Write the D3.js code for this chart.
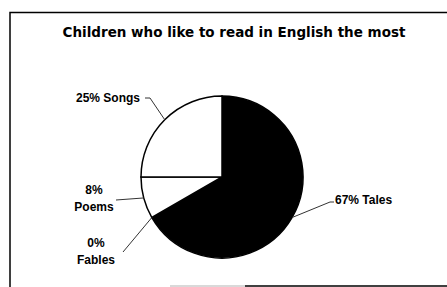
<!DOCTYPE html>
<html><head><meta charset="utf-8">
<script src="https://cdn.jsdelivr.net/npm/d3@7"></script>
<style>body{margin:0;background:#fff}svg{display:block}</style>
</head><body>
<svg id="c" width="447" height="287"></svg>
<script>
const categories = ["Tales", "Fables", "Poems", "Songs"];
const values = [8, 0, 1, 3];
const percentLabels = ["67%", "0%", "8%", "25%"];
const fills = ["#000", "#000", "#fff", "#fff"];
const title = "Children who like to read in English the most";

const svg = d3.select("#c");
const font = "'Liberation Sans', Arial, sans-serif";
// frame (partly cut off by the picture edge)
svg.append("path").attr("d", "M10,287 V12.5 H447").attr("fill", "none")
  .attr("stroke", "#000").attr("stroke-width", 1.5);
svg.append("line").attr("x1", 170).attr("x2", 245).attr("y1", 286).attr("y2", 286)
  .attr("stroke", "#ccc").attr("stroke-width", 1.5);
svg.append("line").attr("x1", 245).attr("x2", 447).attr("y1", 286).attr("y2", 286)
  .attr("stroke", "#000").attr("stroke-width", 1.5);

const tt = svg.append("text").attr("x", 234).attr("y", 37).attr("text-anchor", "middle")
  .attr("font-family", "'DejaVu Sans', sans-serif").attr("font-weight", "bold")
  .attr("font-size", 12).text(title);
const w = tt.node().getComputedTextLength();
tt.attr("font-size", 12 * 343 / w);

const cx = 222, cy = 177, r = 81;
const data = categories.map((c, i) => ({cat: c, v: values[i], pct: percentLabels[i], fill: fills[i]}));
const pie = d3.pie().sort(null).value(d => d.v).startAngle(0).endAngle(2 * Math.PI);
const arcs = pie(data);
const arc = d3.arc().innerRadius(0).outerRadius(r);
const g = svg.append("g").attr("transform", `translate(${cx},${cy})`);
g.selectAll("path").data(arcs).join("path").attr("d", arc)
  .attr("fill", d => d.data.fill).attr("stroke", "#000").attr("stroke-width", 1.5);

// label layout (positions relative to centre) per category
const layout = {
  Tales:  {lines: ["67% Tales"], tx: 113, ty: 27, anchor: "start", elbow: [[108, 25], [112, 25]]},
  Songs:  {lines: ["25% Songs"], tx: -82, ty: -75, anchor: "end", elbow: [[-72, -79], [-77, -79]]},
  Poems:  {lines: ["8%", "Poems"], tx: -128, ty: 17, anchor: "middle", elbow: [[-106, 23]]},
  Fables: {lines: ["0%", "Fables"], tx: -126, ty: 70, anchor: "middle", elbow: [[-99, 75]]}
};
arcs.forEach(a => {
  const L = layout[a.data.cat];
  const mid = (a.startAngle + a.endAngle) / 2;
  const p0 = [Math.sin(mid) * r, -Math.cos(mid) * r];
  const pts = [p0, ...L.elbow];
  g.append("path").attr("d", d3.line()(pts)).attr("fill", "none")
    .attr("stroke", "#333").attr("stroke-width", 1);
  const t = g.append("text").attr("x", L.tx).attr("y", L.ty).attr("text-anchor", L.anchor)
    .attr("font-family", font).attr("font-weight", "bold").attr("font-size", 12);
  L.lines.forEach((ln, i) => {
    t.append("tspan").attr("x", L.tx).attr("dy", i === 0 ? 0 : 17).text(ln);
  });
});
</script>
</body></html>
